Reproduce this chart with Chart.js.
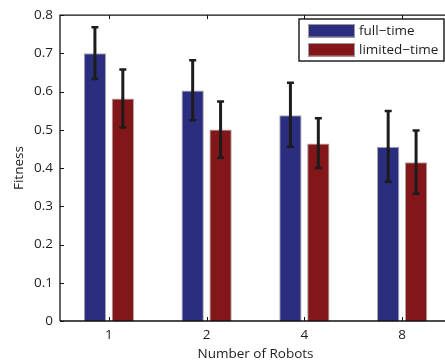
<!DOCTYPE html>
<html>
<head>
<meta charset="utf-8">
<script src="https://cdn.jsdelivr.net/npm/chart.js@4/dist/chart.umd.min.js"></script>
<style>
html,body{margin:0;padding:0;background:#fff;overflow:hidden;width:445px;height:363px;}
canvas{display:block;}
</style>
</head>
<body>
<canvas id="c" width="460" height="363"></canvas>
<script>
const categories = ['1', '2', '4', '8'];
const fullTime = [0.700, 0.603, 0.538, 0.456];
const limitedTime = [0.582, 0.501, 0.464, 0.415];
const fullTimeLow = [0.633, 0.525, 0.456, 0.364];
const fullTimeHigh = [0.768, 0.682, 0.623, 0.549];
const limitedTimeLow = [0.506, 0.427, 0.400, 0.333];
const limitedTimeHigh = [0.658, 0.574, 0.530, 0.498];
const seriesLabels = ['full\u2212time', 'limited\u2212time'];

const FONT = '"Open Sans", "DejaVu Sans", sans-serif';
const FS = 13.5;
const TXT = '#1e1e1e';

const errorBars = {
  id: 'errorBars',
  afterDatasetsDraw(chart) {
    const ctx = chart.ctx;
    const ys = chart.scales.y;
    chart.data.datasets.forEach((ds, di) => {
      const meta = chart.getDatasetMeta(di);
      meta.data.forEach((bar, i) => {
        const top = ys.getPixelForValue(ds.errHigh[i]);
        const bot = ys.getPixelForValue(ds.errLow[i]);
        ctx.save();
        ctx.strokeStyle = '#1c1c1c';
        ctx.lineWidth = 3;
        ctx.beginPath();
        ctx.moveTo(bar.x, top); ctx.lineTo(bar.x, bot);
        ctx.stroke();
        ctx.lineWidth = 2.5;
        ctx.beginPath();
        ctx.moveTo(bar.x - 3.5, top); ctx.lineTo(bar.x + 3.5, top);
        ctx.moveTo(bar.x - 3.5, bot); ctx.lineTo(bar.x + 3.5, bot);
        ctx.stroke();
        ctx.restore();
      });
    });
  }
};

const frame = {
  id: 'frame',
  afterDraw(chart) {
    const ctx = chart.ctx;
    const a = chart.chartArea;
    const xs = chart.scales.x, ys = chart.scales.y;
    ctx.save();
    ctx.strokeStyle = '#111';
    ctx.lineWidth = 1.3;
    ctx.beginPath();
    ctx.moveTo(a.left, a.bottom); ctx.lineTo(a.left, a.top); ctx.lineTo(a.right, a.top); ctx.lineTo(a.right, a.bottom); ctx.lineTo(a.left, a.bottom);
    ctx.stroke();
    ctx.lineWidth = 1;
    ctx.beginPath();
    ys.ticks.forEach((t, i) => {
      const y = Math.round(ys.getPixelForTick(i)) + 0.5;
      ctx.moveTo(a.left, y); ctx.lineTo(a.left + 4, y);
      ctx.moveTo(a.right, y); ctx.lineTo(a.right - 4, y);
    });
    xs.ticks.forEach((t, i) => {
      const x = Math.round(xs.getPixelForTick(i)) + 0.5;
      ctx.moveTo(x, a.bottom); ctx.lineTo(x, a.bottom - 4);
      ctx.moveTo(x, a.top); ctx.lineTo(x, a.top + 4);
    });
    ctx.stroke();
    // legend
    const L = 299, T = 19, R = 444, B = 61;
    ctx.fillStyle = '#fff';
    ctx.fillRect(L, T, R - L, B - T);
    ctx.strokeStyle = '#000';
    ctx.lineWidth = 1.3;
    ctx.strokeRect(L, T, R - L, B - T);
    chart.data.datasets.forEach((ds, di) => {
      const sy = 24 + di * 19;
      ctx.fillStyle = ds.backgroundColor;
      ctx.fillRect(308, sy, 47, 13.5);
      ctx.strokeStyle = '#9a9a9a';
      ctx.lineWidth = 1;
      ctx.strokeRect(308.5, sy + 0.5, 46, 12.5);
      ctx.fillStyle = TXT;
      ctx.font = FS + 'px ' + FONT;
      ctx.textBaseline = 'middle';
      ctx.textAlign = 'left';
      ctx.fillText(ds.label, 359, sy + 7);
    });
    ctx.restore();
  }
};

new Chart(document.getElementById('c'), {
  type: 'bar',
  data: {
    labels: categories,
    datasets: [
      { label: seriesLabels[0], data: fullTime, errLow: fullTimeLow, errHigh: fullTimeHigh,
        backgroundColor: '#2b2d7f', borderColor: '#a8a8a8', borderWidth: 1 },
      { label: seriesLabels[1], data: limitedTime, errLow: limitedTimeLow, errHigh: limitedTimeHigh,
        backgroundColor: '#821619', borderColor: '#a8a8a8', borderWidth: 1 }
    ]
  },
  options: {
    responsive: false,
    animation: false,
    devicePixelRatio: 1,
    layout: { padding: { top: 12, right: 9, left: 0, bottom: 0 } },
    datasets: { bar: { categoryPercentage: 0.571, barPercentage: 0.8 } },
    plugins: { legend: { display: false }, tooltip: { enabled: false } },
    scales: {
      x: {
        grid: { display: false, drawTicks: false },
        border: { display: false },
        ticks: { color: TXT, font: { family: FONT, size: FS }, padding: 6 },
        title: { display: true, text: 'Number of Robots', color: TXT, font: { family: FONT, size: FS }, padding: { top: 0, bottom: 1 } },
        afterFit(s) { s.height = 42; }
      },
      y: {
        min: 0, max: 0.8,
        grid: { display: false, drawTicks: false },
        border: { display: false },
        ticks: { stepSize: 0.1, color: TXT, font: { family: FONT, size: FS }, padding: 7,
          callback: v => String(Math.round(v * 10) / 10) },
        title: { display: true, text: 'Fitness', color: TXT, font: { family: FONT, size: FS }, padding: { top: 11, bottom: 0 } },
        afterFit(s) { s.width = 60; }
      }
    }
  },
  plugins: [errorBars, frame]
});
</script>
</body>
</html>
